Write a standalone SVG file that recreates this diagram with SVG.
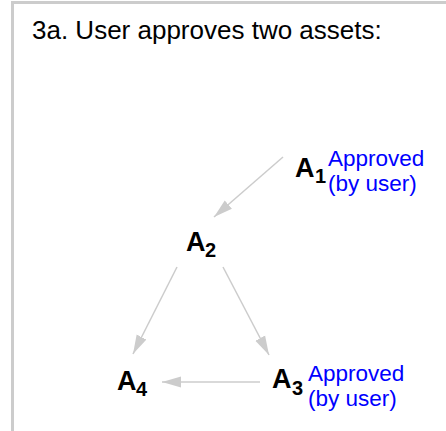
<svg xmlns="http://www.w3.org/2000/svg" width="446" height="431" viewBox="0 0 446 431">
<style>
.title{font-family:"Liberation Sans",Arial,sans-serif;font-size:26px;fill:#000}
.lbl{font-family:"Liberation Sans",Arial,sans-serif;font-size:27px;font-weight:bold;fill:#000}
.sub{font-size:20px}
.note{font-family:"Liberation Sans",Arial,sans-serif;font-size:22.5px;fill:#0000ff}
.edge{stroke:#cccccc;stroke-width:1.5;fill:none}
</style>
<defs>
<marker id="arr" markerUnits="userSpaceOnUse" markerWidth="20" markerHeight="14" viewBox="0 0 20 14" refX="19" refY="7" orient="auto">
<path d="M0,1.5 L19,7 L0,12.5 Z" fill="#cccccc"/>
</marker>
</defs>
<path d="M12.5,431 V2.5 H446" fill="none" stroke="#cccccc" stroke-width="3"/>
<text class="title" x="32" y="39">3a. User approves two assets:</text>
<g id="connectors">
<line class="edge" x1="283" y1="157" x2="214" y2="217" marker-end="url(#arr)"/>
<line class="edge" x1="177" y1="267" x2="133" y2="354" marker-end="url(#arr)"/>
<line class="edge" x1="223" y1="267" x2="269" y2="355" marker-end="url(#arr)"/>
<line class="edge" x1="260" y1="382" x2="162" y2="382" marker-end="url(#arr)"/>
</g>
<g id="A1">
<text class="lbl" x="295" y="177">A<tspan class="sub" x="315" y="183">1</tspan></text>
<text class="note" x="328" y="166">Approved</text>
<text class="note" x="328" y="191">(by user)</text>
</g>
<g id="A2">
<text class="lbl" x="186" y="251">A<tspan class="sub" x="205" y="257">2</tspan></text>
</g>
<g id="A3">
<text class="lbl" x="272" y="388">A<tspan class="sub" x="292" y="395">3</tspan></text>
<text class="note" x="308" y="381">Approved</text>
<text class="note" x="308" y="406">(by user)</text>
</g>
<g id="A4">
<text class="lbl" x="117" y="390">A<tspan class="sub" x="136" y="396">4</tspan></text>
</g>
</svg>
